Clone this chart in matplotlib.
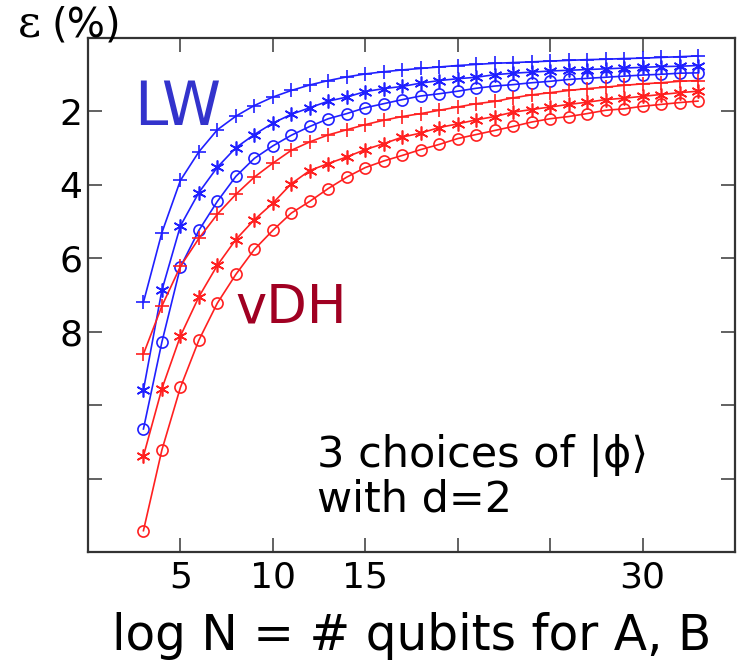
import matplotlib
matplotlib.use("Agg")
import matplotlib.pyplot as plt
import numpy as np

plt.rcParams['font.family'] = ['DejaVu Sans']

# log N = number of qubits
n_qubits = np.arange(3, 34)

# error in % for the LW construction (3 states)
lw_plus = [7.2, 5.3, 3.88, 3.1, 2.5, 2.13, 1.84, 1.61, 1.43, 1.28, 1.16, 1.06, 0.98, 0.92,
           0.87, 0.83, 0.79, 0.75, 0.72, 0.69, 0.67, 0.65, 0.63, 0.61, 0.59, 0.58, 0.56,
           0.55, 0.53, 0.51, 0.49]
lw_star = [9.59, 6.87, 5.12, 4.21, 3.52, 2.99, 2.63, 2.32, 2.08, 1.9, 1.72, 1.61, 1.46, 1.38,
           1.32, 1.23, 1.16, 1.11, 1.07, 1.0, 0.96, 0.93, 0.9, 0.88, 0.86, 0.84, 0.82,
           0.8, 0.78, 0.77, 0.75]
lw_circ = [10.65, 8.28, 6.24, 5.24, 4.45, 3.77, 3.28, 2.94, 2.65, 2.41, 2.2, 2.06, 1.9, 1.79,
           1.68, 1.58, 1.52, 1.45, 1.37, 1.31, 1.27, 1.22, 1.18, 1.13, 1.1, 1.07, 1.04,
           1.01, 0.99, 0.96, 0.95]

# error in % for the vDH construction
vdh_plus = [8.61, 7.3, 6.22, 5.46, 4.8, 4.26, 3.79, 3.41, 3.06, 2.83, 2.64, 2.5, 2.36, 2.24,
            2.14, 2.06, 1.97, 1.88, 1.79, 1.73, 1.63, 1.55, 1.49, 1.43, 1.38, 1.34, 1.29,
            1.25, 1.22, 1.18, 1.16]
vdh_star = [11.39, 9.55, 8.12, 7.05, 6.19, 5.49, 4.95, 4.5, 3.97, 3.61, 3.42, 3.24, 3.04, 2.88,
            2.7, 2.59, 2.44, 2.34, 2.23, 2.14, 2.02, 1.95, 1.88, 1.81, 1.75, 1.68, 1.64,
            1.59, 1.54, 1.49, 1.45]
vdh_circ = [13.42, 11.22, 9.52, 8.23, 7.22, 6.44, 5.76, 5.24, 4.77, 4.45, 4.1, 3.79, 3.53, 3.35,
            3.2, 3.04, 2.9, 2.74, 2.63, 2.52, 2.41, 2.29, 2.2, 2.14, 2.06, 1.97, 1.93,
            1.86, 1.81, 1.76, 1.72]

x_ticks = [5, 10, 15, 20, 25, 30]
x_tick_labels = ['5', '10', '15', '', '', '30']
y_ticks = [2, 4, 6, 8, 10, 12]
y_tick_labels = ['2', '4', '6', '8', '', '']

blue = '#2020ff'
red = '#ff2020'
asterisk = (6, 2, 0)

fig = plt.figure(figsize=(7.38, 6.72), dpi=100)
ax = fig.add_axes([0.1192, 0.1786, 0.8767, 0.7649])

style = dict(linewidth=1.2, markersize=10, markeredgewidth=1.2)
circ = dict(linewidth=1.2, markersize=8, markeredgewidth=1.2, markerfacecolor='none')
ax.plot(n_qubits, lw_plus, color=blue, marker='+', **style)
ax.plot(n_qubits, lw_star, color=blue, marker=asterisk, **style)
ax.plot(n_qubits, lw_circ, color=blue, marker='o', **circ)
ax.plot(n_qubits, vdh_plus, color=red, marker='+', **style)
ax.plot(n_qubits, vdh_star, color=red, marker=asterisk, **style)
ax.plot(n_qubits, vdh_circ, color=red, marker='o', **circ)

ax.set_xlim(0, 35)
ax.set_ylim(14, 0)
ax.set_xticks(x_ticks)
ax.set_xticklabels(x_tick_labels)
ax.set_yticks(y_ticks)
ax.set_yticklabels(y_tick_labels)
ax.tick_params(direction='in', top=True, right=True, length=10, width=1.3,
               color='#555555', labelsize=26)
ax.tick_params(axis='x', pad=6)
ax.tick_params(axis='y', pad=4)

for sp in ax.spines.values():
    sp.set_color('#333333')
    sp.set_linewidth(1.6)

ax.set_xlabel('log N = # qubits for A, B', fontsize=35, labelpad=13)

fig.text(0.024, 0.945, 'ε', family='DejaVu Serif', fontsize=32, va='baseline')
fig.text(0.07, 0.945, '(%)', fontsize=29, va='baseline')

ax.text(2.5, 2.37, 'LW', color='#3333cc', fontsize=43, va='baseline')
ax.text(8.0, 7.74, 'vDH', color='#a00022', fontsize=38, va='baseline')
ax.text(12.4, 11.68, '3 choices of |ϕ⟩', fontsize=31, va='baseline')
ax.text(12.4, 12.9, 'with d=2', fontsize=31, va='baseline')

fig.savefig('out.png', dpi=100)
